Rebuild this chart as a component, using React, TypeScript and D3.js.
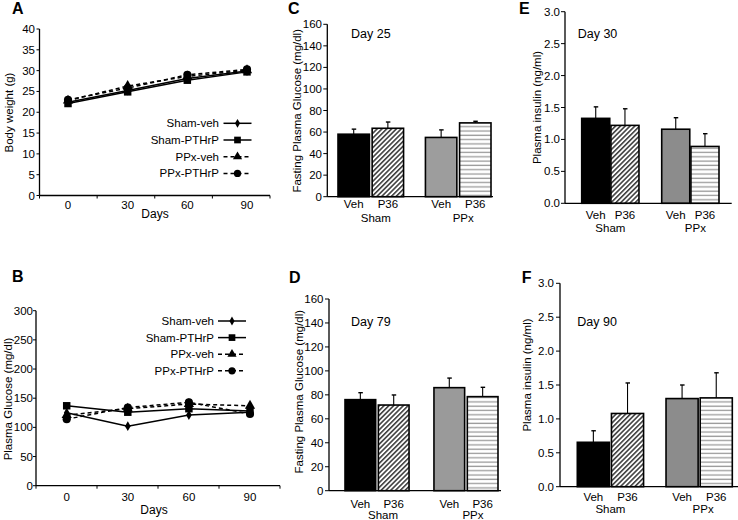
import * as d3 from "d3";

// ---- data ----
const days = ["0", "30", "60", "90"];
const lineGroups = ["Sham-veh", "Sham-PTHrP", "PPx-veh", "PPx-PTHrP"];

const bodyWeightShamVeh = [22.4, 25.2, 28.1, 29.9];
const bodyWeightShamPTHrP = [22.1, 24.9, 27.7, 29.7];
const bodyWeightPPxVeh = [22.8, 26.3, 28.6, 30.1];
const bodyWeightPPxPTHrP = [23.0, 25.8, 29.0, 30.3];

const glucoseShamVeh = [125, 102, 121, 126];
const glucoseShamPTHrP = [137, 126, 132, 128];
const glucosePPxVeh = [121, 132, 140, 137];
const glucosePPxPTHrP = [114, 134, 143, 123];

const barGroups = ["Sham", "PPx"];
const treatments = ["Veh", "P36"];

const fastingDay25Mean = [58, 63.5, 55, 68.5];
const fastingDay25Sem = [4.7, 5.8, 7, 1.5];
const fastingDay79Mean = [76, 71.5, 86, 78.5];
const fastingDay79Sem = [5.8, 8.4, 8, 7.8];
const insulinDay30Mean = [1.33, 1.22, 1.16, 0.89];
const insulinDay30Sem = [0.18, 0.26, 0.18, 0.2];
const insulinDay90Mean = [0.655, 1.08, 1.3, 1.31];
const insulinDay90Sem = [0.17, 0.45, 0.2, 0.37];

const font = '"Liberation Sans", Arial, Helvetica, sans-serif';

const markerTypes = [d3.symbolDiamond, d3.symbolSquare, d3.symbolTriangle, d3.symbolCircle];
const markerSizes = [28, 56, 46, 52];
const dashes = [undefined, undefined, "4,3", "4,3"];

type LineProps = {
  letter: string;
  letterPos: [number, number];
  axisX: number;
  axisY: number;
  yTop: number;
  yMax: number;
  tickCount: number;
  tickRange: [number, number];
  pointRange: [number, number];
  series: number[][];
  yTitle: string;
  yTitlePos: [number, number];
  tickLabelX: number;
  dayLabelY: number;
  daysPos: [number, number];
  legendTop: number;
  legendStep: number;
  legendTextX: number;
  legendLine: [number, number];
};

function LinePanel(p: LineProps) {
  const y = d3.scaleLinear().domain([0, p.yMax]).range([p.axisY, p.yTop]);
  const xTicks = d3.scaleBand().domain(days).range(p.tickRange);
  const x = d3.scalePoint().domain(days).range(p.pointRange);
  const line = d3
    .line<number>()
    .x((_, i) => x(days[i]) ?? 0)
    .y((v) => y(v));
  const tickXs = [...days.map((d) => xTicks(d) ?? 0), p.tickRange[1]];
  return (
    <g>
      <text x={p.letterPos[0]} y={p.letterPos[1]} fontSize={16} fontWeight="bold">
        {p.letter}
      </text>
      {y.ticks(p.tickCount).map((t) => (
        <g key={t}>
          <line x1={p.axisX - 3} x2={p.axisX} y1={y(t)} y2={y(t)} stroke="#000" />
          <text x={p.tickLabelX} y={y(t) + 4} textAnchor="end" fontSize={11.5}>
            {t}
          </text>
        </g>
      ))}
      <line x1={p.axisX} x2={p.axisX} y1={p.yTop} y2={p.axisY} stroke="#000" strokeWidth={1.3} />
      <line x1={p.axisX} x2={p.tickRange[1]} y1={p.axisY} y2={p.axisY} stroke="#000" strokeWidth={1.3} />
      {tickXs.map((tx, i) => (
        <line key={i} x1={tx} x2={tx} y1={p.axisY} y2={p.axisY + 3} stroke="#000" />
      ))}
      {days.map((d) => (
        <text key={d} x={x(d)} y={p.dayLabelY} textAnchor="middle" fontSize={11.5}>
          {d}
        </text>
      ))}
      <text x={p.daysPos[0]} y={p.daysPos[1]} textAnchor="middle" fontSize={12}>
        Days
      </text>
      <text
        transform={`translate(${p.yTitlePos[0]},${p.yTitlePos[1]}) rotate(-90)`}
        dy="0.35em"
        textAnchor="middle"
        fontSize={11.5}
      >
        {p.yTitle}
      </text>
      {p.series.map((s, si) => (
        <path key={si} d={line(s) ?? ""} fill="none" stroke="#000" strokeWidth={1.5} strokeDasharray={dashes[si]} />
      ))}
      {p.series.map((s, si) =>
        s.map((v, i) => (
          <path
            key={`${si}-${i}`}
            transform={`translate(${x(days[i])},${y(v)})`}
            d={d3.symbol(markerTypes[si], markerSizes[si])() ?? ""}
            fill="#000"
          />
        )),
      )}
      {lineGroups.map((name, i) => {
        const ly = p.legendTop + i * p.legendStep;
        const mx = (p.legendLine[0] + p.legendLine[1]) / 2;
        return (
          <g key={name}>
            <text x={p.legendTextX} y={ly + 4} textAnchor="end" fontSize={11.5}>
              {name}
            </text>
            <line
              x1={p.legendLine[0]}
              x2={p.legendLine[1]}
              y1={ly}
              y2={ly}
              stroke="#000"
              strokeWidth={1.5}
              strokeDasharray={dashes[i]}
            />
            <path transform={`translate(${mx},${ly})`} d={d3.symbol(markerTypes[i], markerSizes[i] * 0.8)() ?? ""} fill="#000" />
          </g>
        );
      })}
    </g>
  );
}

type BarProps = {
  letter: string;
  letterPos: [number, number];
  axisX: number;
  axisEnd: number;
  axisY: number;
  yTop: number;
  yMax: number;
  yStep: number;
  decimals: number;
  barRange: [number, number];
  outerPad: number;
  innerPad: number;
  means: number[];
  sems: number[];
  gray: string;
  day: string;
  dayPos: [number, number];
  yTitle: string;
  yTitlePos: [number, number];
  tickLabelX: number;
  labelY: [number, number];
  groupShift: number[];
};

const barFills = (gray: string) => ["#000", "url(#diag)", gray, "url(#horiz)"];

function BarPanel(p: BarProps) {
  const y = d3.scaleLinear().domain([0, p.yMax]).range([p.axisY, p.yTop]);
  const x0 = d3.scaleBand().domain(barGroups).range(p.barRange).paddingInner(p.outerPad);
  const x1 = d3.scaleBand().domain(treatments).range([0, x0.bandwidth()]).paddingInner(p.innerPad);
  const ticks = d3.range(0, p.yMax + p.yStep / 2, p.yStep);
  const fills = barFills(p.gray);
  return (
    <g>
      <text x={p.letterPos[0]} y={p.letterPos[1]} fontSize={16} fontWeight="bold">
        {p.letter}
      </text>
      {ticks.map((t) => (
        <g key={t}>
          <line x1={p.axisX - 4} x2={p.axisX} y1={y(t)} y2={y(t)} stroke="#000" />
          <text x={p.tickLabelX} y={y(t) + 4} textAnchor="end" fontSize={11.5}>
            {t.toFixed(p.decimals)}
          </text>
        </g>
      ))}
      <text
        transform={`translate(${p.yTitlePos[0]},${p.yTitlePos[1]}) rotate(-90)`}
        dy="0.35em"
        textAnchor="middle"
        fontSize={11.5}
      >
        {p.yTitle}
      </text>
      <text x={p.dayPos[0]} y={p.dayPos[1]} fontSize={12.5}>
        {p.day}
      </text>
      {barGroups.map((g, gi) => {
        const gx = x0(g) ?? 0;
        return (
          <g key={g}>
            {treatments.map((t, ti) => {
              const k = gi * 2 + ti;
              const bx = gx + (x1(t) ?? 0);
              const bw = x1.bandwidth();
              const cx = bx + bw / 2;
              const top = y(p.means[k]);
              const errTop = y(p.means[k] + p.sems[k]);
              return (
                <g key={t}>
                  <line x1={cx} x2={cx} y1={top} y2={errTop} stroke="#000" strokeWidth={1.1} />
                  <line x1={cx - 2} x2={cx + 2.5} y1={errTop} y2={errTop} stroke="#000" strokeWidth={1.4} />
                  <rect
                    x={bx}
                    y={top}
                    width={bw}
                    height={p.axisY - top}
                    fill={fills[k]}
                    stroke="#000"
                    strokeWidth={1.6}
                  />
                  <text x={cx} y={p.labelY[0]} textAnchor="middle" fontSize={11.5}>
                    {t}
                  </text>
                </g>
              );
            })}
            <text x={gx + x0.bandwidth() / 2 + p.groupShift[gi]} y={p.labelY[1]} textAnchor="middle" fontSize={11.5}>
              {g}
            </text>
          </g>
        );
      })}
      <line x1={p.axisX} x2={p.axisX} y1={p.yTop} y2={p.axisY} stroke="#000" strokeWidth={1.3} />
      <line x1={p.axisX} x2={p.axisEnd} y1={p.axisY} y2={p.axisY} stroke="#000" strokeWidth={1.3} />
    </g>
  );
}

export default function App() {
  return (
    <svg
      width={738}
      height={520}
      viewBox="0 0 738 520"
      style={{ position: "absolute", left: 0, top: 0, background: "#fff" }}
      fontFamily={font}
    >
      <defs>
        <pattern id="diag" width={3.4} height={3.4} patternUnits="userSpaceOnUse" patternTransform="rotate(45)">
          <rect width={3.4} height={3.4} fill="#fff" />
          <line x1={0.8} y1={0} x2={0.8} y2={3.4} stroke="#333" strokeWidth={1.5} />
        </pattern>
        <pattern id="horiz" width={4} height={4.3} patternUnits="userSpaceOnUse">
          <rect width={4} height={4.3} fill="#fff" />
          <line x1={0} y1={2} x2={4} y2={2} stroke="#9a9a9a" strokeWidth={1.3} />
        </pattern>
      </defs>
      <rect width={738} height={520} fill="#fff" />

      <LinePanel
        letter="A"
        letterPos={[12, 14]}
        axisX={39.5}
        axisY={195.5}
        yTop={29}
        yMax={40}
        tickCount={8}
        tickRange={[39.5, 270]}
        pointRange={[68, 247]}
        series={[bodyWeightShamVeh, bodyWeightShamPTHrP, bodyWeightPPxVeh, bodyWeightPPxPTHrP]}
        yTitle="Body weight (g)"
        yTitlePos={[9, 112.5]}
        tickLabelX={35}
        dayLabelY={209}
        daysPos={[155, 218]}
        legendTop={123.3}
        legendStep={16.7}
        legendTextX={219}
        legendLine={[223.5, 251.5]}
      />
      <LinePanel
        letter="B"
        letterPos={[12, 282]}
        axisX={36}
        axisY={485.7}
        yTop={310.7}
        yMax={300}
        tickCount={6}
        tickRange={[36, 280]}
        pointRange={[66.7, 250]}
        series={[glucoseShamVeh, glucoseShamPTHrP, glucosePPxVeh, glucosePPxPTHrP]}
        yTitle="Plasma Glucose (mg/dl)"
        yTitlePos={[8, 399]}
        tickLabelX={33}
        dayLabelY={501}
        daysPos={[154, 514]}
        legendTop={321}
        legendStep={16.6}
        legendTextX={214}
        legendLine={[218, 246]}
      />
      <BarPanel
        letter="C"
        letterPos={[288, 13.5]}
        axisX={327.3}
        axisEnd={493}
        axisY={196.7}
        yTop={24.3}
        yMax={160}
        yStep={20}
        decimals={0}
        barRange={[338, 491]}
        outerPad={0.25}
        innerPad={0.08}
        means={fastingDay25Mean}
        sems={fastingDay25Sem}
        gray="#9d9d9d"
        day="Day 25"
        dayPos={[351, 38]}
        yTitle="Fasting Plasma Glucose (mg/dl)"
        yTitlePos={[297, 110.8]}
        tickLabelX={322}
        labelY={[208, 222]}
        groupShift={[5, 5]}
      />
      <BarPanel
        letter="D"
        letterPos={[289, 282.7]}
        axisX={329}
        axisEnd={501}
        axisY={490.7}
        yTop={299}
        yMax={160}
        yStep={20}
        decimals={0}
        barRange={[345, 498]}
        outerPad={0.28}
        innerPad={0.08}
        means={fastingDay79Mean}
        sems={fastingDay79Sem}
        gray="#9a9a9a"
        day="Day 79"
        dayPos={[351, 326]}
        yTitle="Fasting Plasma Glucose (mg/dl)"
        yTitlePos={[298.5, 391.7]}
        tickLabelX={323.5}
        labelY={[507.5, 519]}
        groupShift={[6, 7]}
      />
      <BarPanel
        letter="E"
        letterPos={[519, 13.5]}
        axisX={565}
        axisEnd={731.7}
        axisY={203.3}
        yTop={11.7}
        yMax={3}
        yStep={0.5}
        decimals={1}
        barRange={[581.7, 719]}
        outerPad={0.284}
        innerPad={0.04}
        means={insulinDay30Mean}
        sems={insulinDay30Sem}
        gray="#8c8c8c"
        day="Day 30"
        dayPos={[577.7, 38]}
        yTitle="Plasma insulin (ng/ml)"
        yTitlePos={[537, 107.5]}
        tickLabelX={560}
        labelY={[218.5, 232]}
        groupShift={[0, 5]}
      />
      <BarPanel
        letter="F"
        letterPos={[521.7, 282.7]}
        axisX={560}
        axisEnd={738}
        axisY={486.7}
        yTop={283.3}
        yMax={3}
        yStep={0.5}
        decimals={1}
        barRange={[577.3, 732.3]}
        outerPad={0.253}
        innerPad={0.06}
        means={insulinDay90Mean}
        sems={insulinDay90Sem}
        gray="#8c8c8c"
        day="Day 90"
        dayPos={[577.3, 326]}
        yTitle="Plasma insulin (ng/ml)"
        yTitlePos={[527, 375]}
        tickLabelX={554}
        labelY={[501, 512.5]}
        groupShift={[0, 4]}
      />
    </svg>
  );
}
